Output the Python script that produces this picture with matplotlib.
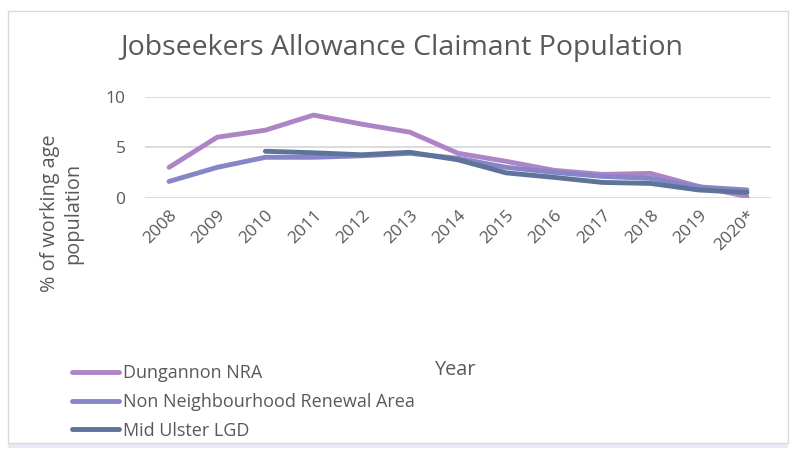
import matplotlib
matplotlib.use('Agg')
import matplotlib.pyplot as plt
from matplotlib.patches import Rectangle

years = ['2008', '2009', '2010', '2011', '2012', '2013', '2014',
         '2015', '2016', '2017', '2018', '2019', '2020*']
dungannon = [3.0, 6.0, 6.7, 8.2, 7.3, 6.5, 4.4, 3.6, 2.7, 2.3, 2.4, 1.1, 0.1]
nonNra = [1.6, 3.0, 4.0, 4.0, 4.15, 4.4, 3.9, 3.0, 2.5, 2.1, 1.9, 1.05, 0.75]
midUlster = [None, None, 4.6, 4.45, 4.25, 4.5, 3.75, 2.45, 2.0, 1.5, 1.4, 0.75, 0.5]
seriesNames = ['Dungannon NRA', 'Non Neighbourhood Renewal Area', 'Mid Ulster LGD']
yTicks = [0, 5, 10]

colors = ['#AD84C6', '#8784C7', '#5D739A']
textColor = '#595959'
gridColor = '#D9D9D9'

plt.rcParams['font.family'] = ['Open Sans', 'DejaVu Sans']

W, H = 790, 453
fig = plt.figure(figsize=(W / 100, H / 100), dpi=100)

# chart frame
fig.patches.append(Rectangle((8 / W, 1 - 448 / H), 780 / W, 8 / H, transform=fig.transFigure,
                             facecolor='#EEE8F6', edgecolor='none', zorder=-2))
fig.patches.append(Rectangle((8 / W, 1 - 443 / H), 780 / W, 432 / H, transform=fig.transFigure,
                             facecolor='white', edgecolor=gridColor, lw=1, zorder=-1))

ax = fig.add_axes([145 / W, 1 - 197.5 / H, (771 - 145) / W, 100.5 / H])
ax.set_facecolor('none')
ax.set_zorder(2)

x = list(range(len(years)))
allSeries = [dungannon, nonNra, midUlster]
for i in range(len(allSeries)):
    xs = [x[j] for j in range(len(x)) if allSeries[i][j] is not None]
    ys = [v for v in allSeries[i] if v is not None]
    ax.plot(xs, ys, color=colors[i], lw=3.5, solid_capstyle='round', label=seriesNames[i], zorder=3)

ax.set_xlim(-0.5, len(years) - 0.5)
ax.set_ylim(0, 10)
ax.set_yticks(yTicks)
ax.set_yticklabels([str(t) for t in yTicks], fontsize=12.5, color=textColor)
ax.set_xticks(x)
ax.set_xticklabels(years, rotation=45, ha='right', va='top', rotation_mode='anchor',
                   fontsize=12.5, color=textColor)
ax.tick_params(axis='both', length=0)
ax.tick_params(axis='y', pad=14)
ax.tick_params(axis='x', pad=7)
ax.grid(axis='y', color=gridColor, lw=1.3)
ax.set_axisbelow(True)
for s in ax.spines.values():
    s.set_visible(False)

fig.text(402 / W, 1 - 48 / H, 'Jobseekers Allowance Claimant Population',
         ha='center', va='center', fontsize=20.5, color=textColor)
fig.text(62 / W, 1 - 213 / H, '% of working age\npopulation', rotation=90,
         ha='center', va='center', multialignment='center', fontsize=14.3, color=textColor,
         linespacing=1.2)
fig.text(456 / W, 1 - 370 / H, 'Year', ha='center', va='center', fontsize=14.3, color=textColor)

fig.legend(loc='upper left', bbox_to_anchor=(72 / W, 1 - 364 / H), frameon=False,
           fontsize=13, labelcolor=textColor, handlelength=2.6, handletextpad=0.25,
           labelspacing=0.6, borderaxespad=0, borderpad=0)

plt.savefig('out.png', dpi=100)
